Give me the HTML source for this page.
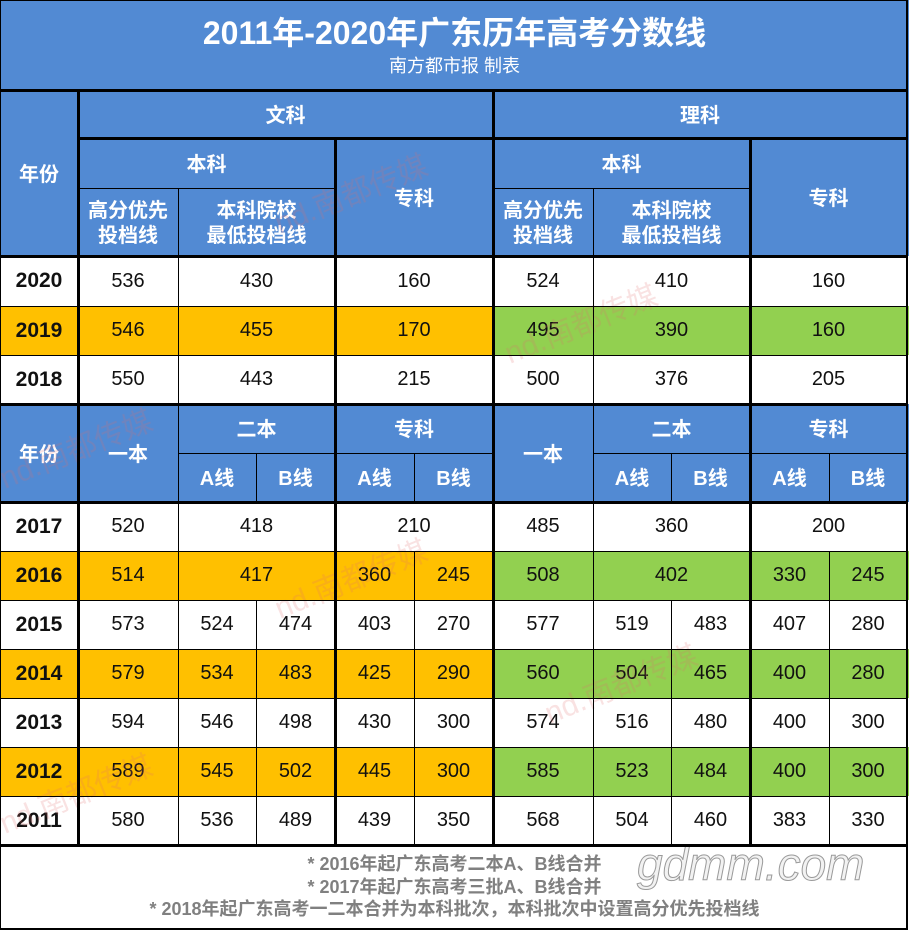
<!DOCTYPE html>
<html><head><meta charset="utf-8">
<style>
*{margin:0;padding:0;box-sizing:border-box}
html,body{width:909px;height:930px;background:#fff;overflow:hidden}
body{position:relative;font-family:"Liberation Sans","Noto Sans CJK SC",sans-serif}
.b{position:absolute;background:#528ad3}
.o{position:absolute;background:#ffc000}
.g{position:absolute;background:#92d050}
.c{position:absolute;display:flex;align-items:center;justify-content:center;font-size:20px;color:#111;white-space:nowrap}
.y{font-weight:bold;font-size:21px}
.h{position:absolute;display:flex;align-items:center;justify-content:center;text-align:center;color:#fff;font-weight:bold;font-size:20px;line-height:25px;white-space:nowrap;padding-top:4px}
.L{position:absolute;background:#000}
.wm{position:absolute;color:rgba(225,110,110,0.2);font-size:30px;white-space:nowrap;transform:rotate(-22deg);transform-origin:left center}
</style></head><body>

<!-- backgrounds -->
<div class="b" style="left:0;top:0;width:909px;height:256px"></div>
<div class="b" style="left:0;top:404px;width:909px;height:98px"></div>
<div class="o" style="left:0;top:306px;width:493px;height:49px"></div>
<div class="g" style="left:493px;top:306px;width:416px;height:49px"></div>
<div class="o" style="left:0;top:551px;width:493px;height:49px"></div>
<div class="g" style="left:493px;top:551px;width:416px;height:49px"></div>
<div class="o" style="left:0;top:649px;width:493px;height:49px"></div>
<div class="g" style="left:493px;top:649px;width:416px;height:49px"></div>
<div class="o" style="left:0;top:747px;width:493px;height:49px"></div>
<div class="g" style="left:493px;top:747px;width:416px;height:49px"></div>

<!-- title -->
<div class="h" style="left:0;top:13px;width:909px;height:40px;font-size:32px;line-height:40px;padding-top:0">2011年-2020年广东历年高考分数线</div>
<div class="h" style="left:0;top:55px;width:909px;height:22px;font-size:18px;font-weight:normal;line-height:22px;padding-top:0">南方都市报 制表</div>

<!-- upper header -->
<div class="h" style="left:0;top:90px;width:78px;height:166px">年份</div>
<div class="h" style="left:78px;top:90px;width:415px;height:49px">文科</div>
<div class="h" style="left:493px;top:90px;width:414px;height:49px">理科</div>
<div class="h" style="left:78px;top:139px;width:257px;height:49px">本科</div>
<div class="h" style="left:493px;top:139px;width:257px;height:49px">本科</div>
<div class="h" style="left:335px;top:139px;width:158px;height:117px">专科</div>
<div class="h" style="left:750px;top:139px;width:157px;height:117px">专科</div>
<div class="h" style="left:78px;top:188px;width:100px;height:68px">高分优先<br>投档线</div>
<div class="h" style="left:178px;top:188px;width:157px;height:68px">本科院校<br>最低投档线</div>
<div class="h" style="left:493px;top:188px;width:100px;height:68px">高分优先<br>投档线</div>
<div class="h" style="left:593px;top:188px;width:157px;height:68px">本科院校<br>最低投档线</div>

<!-- upper data rows -->
<div class="c y" style="left:0;top:256px;width:78px;height:50px">2020</div>
<div class="c" style="left:78px;top:256px;width:100px;height:50px">536</div>
<div class="c" style="left:178px;top:256px;width:157px;height:50px">430</div>
<div class="c" style="left:335px;top:256px;width:158px;height:50px">160</div>
<div class="c" style="left:493px;top:256px;width:100px;height:50px">524</div>
<div class="c" style="left:593px;top:256px;width:157px;height:50px">410</div>
<div class="c" style="left:750px;top:256px;width:157px;height:50px">160</div>

<div class="c y" style="left:0;top:306px;width:78px;height:49px">2019</div>
<div class="c" style="left:78px;top:306px;width:100px;height:49px">546</div>
<div class="c" style="left:178px;top:306px;width:157px;height:49px">455</div>
<div class="c" style="left:335px;top:306px;width:158px;height:49px">170</div>
<div class="c" style="left:493px;top:306px;width:100px;height:49px">495</div>
<div class="c" style="left:593px;top:306px;width:157px;height:49px">390</div>
<div class="c" style="left:750px;top:306px;width:157px;height:49px">160</div>

<div class="c y" style="left:0;top:355px;width:78px;height:49px">2018</div>
<div class="c" style="left:78px;top:355px;width:100px;height:49px">550</div>
<div class="c" style="left:178px;top:355px;width:157px;height:49px">443</div>
<div class="c" style="left:335px;top:355px;width:158px;height:49px">215</div>
<div class="c" style="left:493px;top:355px;width:100px;height:49px">500</div>
<div class="c" style="left:593px;top:355px;width:157px;height:49px">376</div>
<div class="c" style="left:750px;top:355px;width:157px;height:49px">205</div>

<!-- lower header -->
<div class="h" style="left:0;top:404px;width:78px;height:98px">年份</div>
<div class="h" style="left:78px;top:404px;width:100px;height:98px">一本</div>
<div class="h" style="left:178px;top:404px;width:157px;height:49px">二本</div>
<div class="h" style="left:335px;top:404px;width:158px;height:49px">专科</div>
<div class="h" style="left:178px;top:453px;width:78px;height:49px">A线</div>
<div class="h" style="left:256px;top:453px;width:79px;height:49px">B线</div>
<div class="h" style="left:335px;top:453px;width:79px;height:49px">A线</div>
<div class="h" style="left:414px;top:453px;width:79px;height:49px">B线</div>
<div class="h" style="left:493px;top:404px;width:100px;height:98px">一本</div>
<div class="h" style="left:593px;top:404px;width:157px;height:49px">二本</div>
<div class="h" style="left:750px;top:404px;width:157px;height:49px">专科</div>
<div class="h" style="left:593px;top:453px;width:78px;height:49px">A线</div>
<div class="h" style="left:671px;top:453px;width:79px;height:49px">B线</div>
<div class="h" style="left:750px;top:453px;width:79px;height:49px">A线</div>
<div class="h" style="left:829px;top:453px;width:78px;height:49px">B线</div>

<!-- 2017 -->
<div class="c y" style="left:0;top:502px;width:78px;height:49px">2017</div>
<div class="c" style="left:78px;top:502px;width:100px;height:49px">520</div>
<div class="c" style="left:178px;top:502px;width:157px;height:49px">418</div>
<div class="c" style="left:335px;top:502px;width:158px;height:49px">210</div>
<div class="c" style="left:493px;top:502px;width:100px;height:49px">485</div>
<div class="c" style="left:593px;top:502px;width:157px;height:49px">360</div>
<div class="c" style="left:750px;top:502px;width:157px;height:49px">200</div>
<!-- 2016 -->
<div class="c y" style="left:0;top:551px;width:78px;height:49px">2016</div>
<div class="c" style="left:78px;top:551px;width:100px;height:49px">514</div>
<div class="c" style="left:178px;top:551px;width:157px;height:49px">417</div>
<div class="c" style="left:335px;top:551px;width:79px;height:49px">360</div>
<div class="c" style="left:414px;top:551px;width:79px;height:49px">245</div>
<div class="c" style="left:493px;top:551px;width:100px;height:49px">508</div>
<div class="c" style="left:593px;top:551px;width:157px;height:49px">402</div>
<div class="c" style="left:750px;top:551px;width:79px;height:49px">330</div>
<div class="c" style="left:829px;top:551px;width:78px;height:49px">245</div>
<!-- 2015 -->
<div class="c y" style="left:0;top:600px;width:78px;height:49px">2015</div>
<div class="c" style="left:78px;top:600px;width:100px;height:49px">573</div>
<div class="c" style="left:178px;top:600px;width:78px;height:49px">524</div>
<div class="c" style="left:256px;top:600px;width:79px;height:49px">474</div>
<div class="c" style="left:335px;top:600px;width:79px;height:49px">403</div>
<div class="c" style="left:414px;top:600px;width:79px;height:49px">270</div>
<div class="c" style="left:493px;top:600px;width:100px;height:49px">577</div>
<div class="c" style="left:593px;top:600px;width:78px;height:49px">519</div>
<div class="c" style="left:671px;top:600px;width:79px;height:49px">483</div>
<div class="c" style="left:750px;top:600px;width:79px;height:49px">407</div>
<div class="c" style="left:829px;top:600px;width:78px;height:49px">280</div>
<!-- 2014 -->
<div class="c y" style="left:0;top:649px;width:78px;height:49px">2014</div>
<div class="c" style="left:78px;top:649px;width:100px;height:49px">579</div>
<div class="c" style="left:178px;top:649px;width:78px;height:49px">534</div>
<div class="c" style="left:256px;top:649px;width:79px;height:49px">483</div>
<div class="c" style="left:335px;top:649px;width:79px;height:49px">425</div>
<div class="c" style="left:414px;top:649px;width:79px;height:49px">290</div>
<div class="c" style="left:493px;top:649px;width:100px;height:49px">560</div>
<div class="c" style="left:593px;top:649px;width:78px;height:49px">504</div>
<div class="c" style="left:671px;top:649px;width:79px;height:49px">465</div>
<div class="c" style="left:750px;top:649px;width:79px;height:49px">400</div>
<div class="c" style="left:829px;top:649px;width:78px;height:49px">280</div>
<!-- 2013 -->
<div class="c y" style="left:0;top:698px;width:78px;height:49px">2013</div>
<div class="c" style="left:78px;top:698px;width:100px;height:49px">594</div>
<div class="c" style="left:178px;top:698px;width:78px;height:49px">546</div>
<div class="c" style="left:256px;top:698px;width:79px;height:49px">498</div>
<div class="c" style="left:335px;top:698px;width:79px;height:49px">430</div>
<div class="c" style="left:414px;top:698px;width:79px;height:49px">300</div>
<div class="c" style="left:493px;top:698px;width:100px;height:49px">574</div>
<div class="c" style="left:593px;top:698px;width:78px;height:49px">516</div>
<div class="c" style="left:671px;top:698px;width:79px;height:49px">480</div>
<div class="c" style="left:750px;top:698px;width:79px;height:49px">400</div>
<div class="c" style="left:829px;top:698px;width:78px;height:49px">300</div>
<!-- 2012 -->
<div class="c y" style="left:0;top:747px;width:78px;height:49px">2012</div>
<div class="c" style="left:78px;top:747px;width:100px;height:49px">589</div>
<div class="c" style="left:178px;top:747px;width:78px;height:49px">545</div>
<div class="c" style="left:256px;top:747px;width:79px;height:49px">502</div>
<div class="c" style="left:335px;top:747px;width:79px;height:49px">445</div>
<div class="c" style="left:414px;top:747px;width:79px;height:49px">300</div>
<div class="c" style="left:493px;top:747px;width:100px;height:49px">585</div>
<div class="c" style="left:593px;top:747px;width:78px;height:49px">523</div>
<div class="c" style="left:671px;top:747px;width:79px;height:49px">484</div>
<div class="c" style="left:750px;top:747px;width:79px;height:49px">400</div>
<div class="c" style="left:829px;top:747px;width:78px;height:49px">300</div>
<!-- 2011 -->
<div class="c y" style="left:0;top:796px;width:78px;height:49px">2011</div>
<div class="c" style="left:78px;top:796px;width:100px;height:49px">580</div>
<div class="c" style="left:178px;top:796px;width:78px;height:49px">536</div>
<div class="c" style="left:256px;top:796px;width:79px;height:49px">489</div>
<div class="c" style="left:335px;top:796px;width:79px;height:49px">439</div>
<div class="c" style="left:414px;top:796px;width:79px;height:49px">350</div>
<div class="c" style="left:493px;top:796px;width:100px;height:49px">568</div>
<div class="c" style="left:593px;top:796px;width:78px;height:49px">504</div>
<div class="c" style="left:671px;top:796px;width:79px;height:49px">460</div>
<div class="c" style="left:750px;top:796px;width:79px;height:49px">383</div>
<div class="c" style="left:829px;top:796px;width:78px;height:49px">330</div>

<!-- watermarks (faint) -->
<div class="wm" style="left:275px;top:200px">nd.南都传媒</div>
<div class="wm" style="left:505px;top:330px">nd.南都传媒</div>
<div class="wm" style="left:0px;top:455px">nd.南都传媒</div>
<div class="wm" style="left:275px;top:585px">nd.南都传媒</div>
<div class="wm" style="left:545px;top:690px">nd.南都传媒</div>
<div class="wm" style="left:0px;top:800px">nd.南都传媒</div>

<!-- gdmm -->
<div style="position:absolute;left:637px;top:836px;font-size:46px;font-style:italic;color:#f2f2f2;-webkit-text-stroke:1px #9a9a9a;line-height:56px;white-space:nowrap">gdmm.com</div>

<!-- notes -->
<div style="position:absolute;left:0;top:853px;width:909px;text-align:center;color:#808080;font-weight:bold;font-size:18px;line-height:22.5px">* 2016年起广东高考二本A、B线合并<br>* 2017年起广东高考三批A、B线合并<br>* 2018年起广东高考一二本合并为本科批次，本科批次中设置高分优先投档线</div>

<!-- outer frame -->
<div class="L" style="left:0;top:0;width:908px;height:1px"></div>
<div class="L" style="left:0;top:0;width:1px;height:930px"></div>
<div class="L" style="left:906px;top:0;width:2px;height:930px"></div>
<div class="L" style="left:0;top:928px;width:908px;height:2px"></div>

<!-- thick horizontal -->
<div class="L" style="left:0;top:89px;width:908px;height:3px"></div>
<div class="L" style="left:78px;top:137px;width:830px;height:3px"></div>
<div class="L" style="left:0;top:255px;width:908px;height:3px"></div>
<div class="L" style="left:0;top:403px;width:908px;height:3px"></div>
<div class="L" style="left:0;top:501px;width:908px;height:3px"></div>
<div class="L" style="left:0;top:844px;width:908px;height:3px"></div>

<!-- thin horizontal -->
<div class="L" style="left:78px;top:188px;width:257px;height:1px"></div>
<div class="L" style="left:493px;top:188px;width:257px;height:1px"></div>
<div class="L" style="left:0;top:306px;width:908px;height:1px"></div>
<div class="L" style="left:0;top:355px;width:908px;height:1px"></div>
<div class="L" style="left:178px;top:453px;width:315px;height:1px"></div>
<div class="L" style="left:593px;top:453px;width:314px;height:1px"></div>
<div class="L" style="left:0;top:551px;width:908px;height:1px"></div>
<div class="L" style="left:0;top:600px;width:908px;height:1px"></div>
<div class="L" style="left:0;top:649px;width:908px;height:1px"></div>
<div class="L" style="left:0;top:698px;width:908px;height:1px"></div>
<div class="L" style="left:0;top:747px;width:908px;height:1px"></div>
<div class="L" style="left:0;top:796px;width:908px;height:1px"></div>

<!-- thick vertical -->
<div class="L" style="left:77px;top:90px;width:3px;height:755px"></div>
<div class="L" style="left:334px;top:139px;width:3px;height:706px"></div>
<div class="L" style="left:492px;top:90px;width:3px;height:755px"></div>
<div class="L" style="left:749px;top:139px;width:3px;height:706px"></div>

<!-- thin vertical -->
<div class="L" style="left:178px;top:188px;width:1px;height:657px"></div>
<div class="L" style="left:593px;top:188px;width:1px;height:657px"></div>
<div class="L" style="left:256px;top:453px;width:1px;height:49px"></div>
<div class="L" style="left:256px;top:600px;width:1px;height:245px"></div>
<div class="L" style="left:671px;top:453px;width:1px;height:49px"></div>
<div class="L" style="left:671px;top:600px;width:1px;height:245px"></div>
<div class="L" style="left:414px;top:453px;width:1px;height:49px"></div>
<div class="L" style="left:414px;top:551px;width:1px;height:294px"></div>
<div class="L" style="left:829px;top:453px;width:1px;height:49px"></div>
<div class="L" style="left:829px;top:551px;width:1px;height:294px"></div>

</body></html>
